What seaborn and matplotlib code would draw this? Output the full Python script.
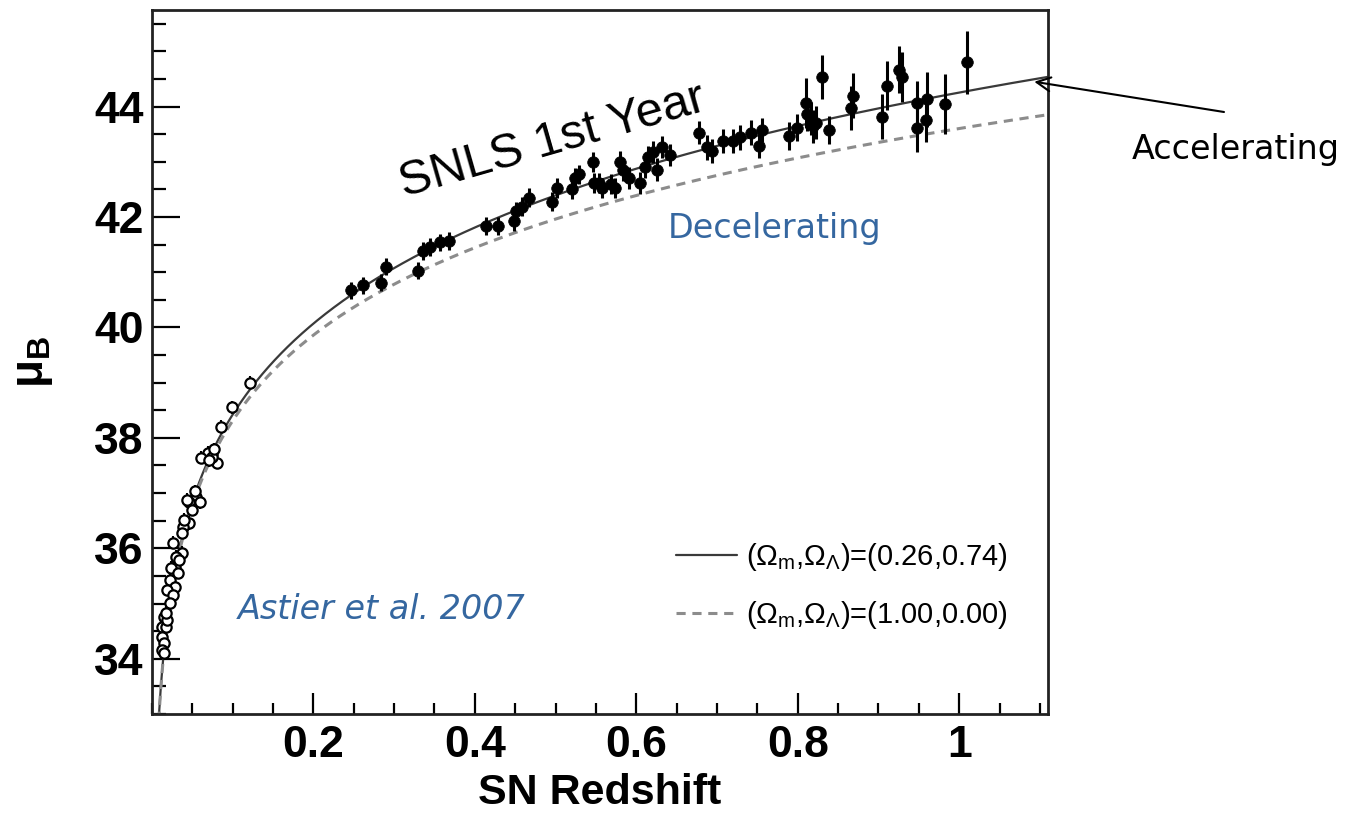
import numpy as np
import pandas as pd
import matplotlib
matplotlib.use("Agg")
import matplotlib.pyplot as plt
from matplotlib.ticker import MultipleLocator, FixedLocator
import seaborn as sns

# ---------------- data ----------------
# SNLS first-year supernovae (filled points)
snls_z = [0.246, 0.261, 0.284, 0.290, 0.330, 0.336, 0.344, 0.357, 0.368, 0.414,
          0.429, 0.449, 0.451, 0.459, 0.467, 0.495, 0.502, 0.520, 0.524, 0.529,
          0.546, 0.548, 0.554, 0.558, 0.569, 0.574, 0.580, 0.583, 0.591, 0.604,
          0.611, 0.615, 0.621, 0.626, 0.632, 0.642, 0.678, 0.688, 0.694, 0.707,
          0.720, 0.728, 0.742, 0.752, 0.756, 0.789, 0.799, 0.810, 0.812, 0.817,
          0.819, 0.823, 0.830, 0.839, 0.866, 0.869, 0.905, 0.910, 0.926, 0.929,
          0.948, 0.948, 0.959, 0.960, 0.983, 1.010]
snls_mu = [40.67, 40.76, 40.81, 41.10, 41.03, 41.39, 41.46, 41.54, 41.57, 41.84,
           41.84, 41.92, 42.10, 42.19, 42.35, 42.28, 42.53, 42.51, 42.71, 42.77,
           42.99, 42.62, 42.62, 42.53, 42.59, 42.53, 42.99, 42.86, 42.70, 42.62,
           42.91, 43.09, 43.17, 42.86, 43.26, 43.13, 43.53, 43.26, 43.20, 43.38,
           43.38, 43.44, 43.53, 43.28, 43.58, 43.47, 43.62, 44.07, 43.86, 43.78,
           43.64, 43.71, 44.53, 43.58, 43.98, 44.20, 43.82, 44.38, 44.67, 44.54,
           44.07, 43.62, 43.75, 44.13, 44.05, 44.80]
snls_err = [0.15, 0.15, 0.15, 0.15, 0.15, 0.16, 0.16, 0.16, 0.16, 0.16,
            0.16, 0.17, 0.17, 0.17, 0.17, 0.17, 0.18, 0.18, 0.18, 0.18,
            0.18, 0.18, 0.18, 0.18, 0.18, 0.18, 0.20, 0.20, 0.20, 0.20,
            0.20, 0.20, 0.20, 0.20, 0.20, 0.20, 0.20, 0.22, 0.22, 0.22,
            0.22, 0.22, 0.22, 0.22, 0.22, 0.25, 0.25, 0.45, 0.30, 0.30,
            0.30, 0.30, 0.40, 0.25, 0.40, 0.40, 0.40, 0.45, 0.42, 0.45,
            0.40, 0.45, 0.40, 0.50, 0.54, 0.57]

# nearby supernovae (open points)
near_z = [0.121, 0.099, 0.086, 0.080, 0.075, 0.069, 0.061, 0.074, 0.055, 0.046,
          0.043, 0.050, 0.046, 0.038, 0.037, 0.026, 0.037, 0.030, 0.028, 0.024,
          0.022, 0.028, 0.019, 0.026, 0.022, 0.015, 0.013, 0.018, 0.013, 0.015,
          0.013, 0.015, 0.019, 0.018, 0.032, 0.034, 0.040, 0.059, 0.053, 0.077,
          0.071]
near_mu = [39.00, 38.55, 38.20, 37.55, 37.70, 37.73, 37.64, 37.66, 36.93, 36.83,
           36.88, 36.70, 36.46, 36.39, 36.28, 36.10, 35.92, 35.85, 35.67, 35.65,
           35.43, 35.30, 35.25, 35.16, 35.01, 34.76, 34.58, 34.58, 34.40, 34.29,
           34.16, 34.11, 34.71, 34.83, 35.56, 35.79, 36.52, 36.83, 37.03, 37.79,
           37.60]
near_err = [0.12] * len(near_z)

# cosmological models from the legend: (Omega_m, Omega_Lambda)
models = [(0.26, 0.74), (1.00, 0.00)]
model_labels = [r"$(\Omega_{\mathrm{m}}{,}\Omega_{\Lambda})$=(0.26,0.74)",
                r"$(\Omega_{\mathrm{m}}{,}\Omega_{\Lambda})$=(1.00,0.00)"]
H0 = 70.0
mu_offset = 0.10

x_ticks = [0.2, 0.4, 0.6, 0.8, 1.0]
x_ticklabels = ["0.2", "0.4", "0.6", "0.8", "1"]
y_ticks = [34, 36, 38, 40, 42, 44]

# ---------------- figure ----------------
sns.set_theme(style="ticks")
plt.rcParams["font.family"] = ["Liberation Sans", "DejaVu Sans"]
plt.rcParams["mathtext.fontset"] = "custom"
plt.rcParams["mathtext.rm"] = "Liberation Sans"
plt.rcParams["mathtext.it"] = "Liberation Sans:italic"
plt.rcParams["mathtext.bf"] = "Liberation Sans:bold"
plt.rcParams["text.color"] = "black"
plt.rcParams["axes.labelcolor"] = "black"
plt.rcParams["xtick.color"] = "black"
plt.rcParams["ytick.color"] = "black"

fig = plt.figure(figsize=(13.47, 8.15), dpi=100)
ax = fig.add_axes([0.1128, 0.124, 0.6652, 0.8638])

# model curves (luminosity distance for flat cosmologies)
zz = np.linspace(0.0, 1.12, 6000)
c = 299792.458
curve_frames = []
for (om, ol), lab in zip(models, model_labels):
    E = np.sqrt(om * (1 + zz) ** 3 + ol + (1 - om - ol) * (1 + zz) ** 2)
    inv = 1.0 / E
    dc = np.concatenate([[0.0], np.cumsum(0.5 * (inv[1:] + inv[:-1]) * np.diff(zz))]) * c / H0
    dl = (1 + zz[1:]) * dc[1:]
    mu = 5 * np.log10(dl) + 25 + mu_offset
    curve_frames.append(pd.DataFrame({"z": zz[1:], "mu": mu, "model": lab}))

sns.lineplot(data=curve_frames[0], x="z", y="mu", color="#3a3a3a", lw=1.6,
             ax=ax, label=model_labels[0], zorder=2)
sns.lineplot(data=curve_frames[1], x="z", y="mu", color="#8c8c8c", lw=2.2,
             ax=ax, label=model_labels[1], zorder=2)
ax.lines[1].set_dashes((3.0, 2.2))

# data points
ax.errorbar(snls_z, snls_mu, yerr=snls_err, fmt="none", ecolor="black",
            elinewidth=2.2, capsize=0, zorder=3)
sns.scatterplot(x=snls_z, y=snls_mu, ax=ax, color="black", s=70,
                edgecolor="black", linewidth=0.5, zorder=4, legend=False)
ax.errorbar(near_z, near_mu, yerr=near_err, fmt="none", ecolor="black",
            elinewidth=1.5, capsize=0, zorder=3)
sns.scatterplot(x=near_z, y=near_mu, ax=ax, facecolor="white", s=55,
                edgecolor="black", linewidth=1.6, zorder=4, legend=False)

# axes
ax.set_xlim(0, 1.11)
ax.set_ylim(33.0, 45.75)
ax.xaxis.set_major_locator(FixedLocator(x_ticks))
ax.set_xticklabels(x_ticklabels)
ax.xaxis.set_minor_locator(MultipleLocator(0.05))
ax.yaxis.set_major_locator(FixedLocator(y_ticks))
ax.yaxis.set_minor_locator(MultipleLocator(0.5))
ax.tick_params(axis="both", which="both", direction="in", color="black",
               labelcolor="black", top=False, right=False)
ax.tick_params(axis="x", which="major", length=15, width=1.6, pad=8,
               labelsize=32)
ax.tick_params(axis="x", which="minor", length=8, width=1.6)
ax.tick_params(axis="y", which="major", length=20, width=1.6, pad=6,
               labelsize=32)
ax.tick_params(axis="y", which="minor", length=10, width=1.6)
for lab in ax.get_xticklabels() + ax.get_yticklabels():
    lab.set_fontweight("bold")
for sp in ax.spines.values():
    sp.set_linewidth(2.0)
    sp.set_color("#222222")

ax.set_xlabel("SN Redshift", fontsize=31, fontweight="bold", labelpad=5,
              color="black")
ax.set_ylabel(r"$\mathbf{\mu_{B}}$", fontsize=33, labelpad=28, color="black")

# legend
leg = ax.legend(loc="upper left", bbox_to_anchor=(0.572, 0.262), frameon=False,
                fontsize=21, handlelength=2.1, handletextpad=0.3,
                labelspacing=0.9, borderaxespad=0)
for t in leg.get_texts():
    t.set_color("black")

# annotations
ax.text(0.3127, 42.36, "SNLS 1st Year", fontsize=35, rotation=16,
        rotation_mode="anchor", ha="left", va="baseline", color="black")
ax.text(0.771, 41.79, "Decelerating", fontsize=24, color="#3567a0",
        ha="center", va="center", family="DejaVu Sans")
ax.text(0.284, 34.89, "Astier et al. 2007", fontsize=24, color="#3567a0",
        ha="center", va="center", family="DejaVu Sans", style="italic")
fig.text(1236 / 1347, 1 - 150 / 815, "Accelerating", fontsize=24,
         color="black", ha="center", va="center", family="DejaVu Sans")
ax.annotate("", xy=(1.093, 44.45), xycoords="data",
            xytext=(1224 / 1347, 1 - 112 / 815), textcoords="figure fraction",
            arrowprops=dict(arrowstyle="->", color="black", lw=1.5,
                            mutation_scale=25, shrinkA=0, shrinkB=0),
            annotation_clip=False)

fig.savefig("out.png", dpi=100)
